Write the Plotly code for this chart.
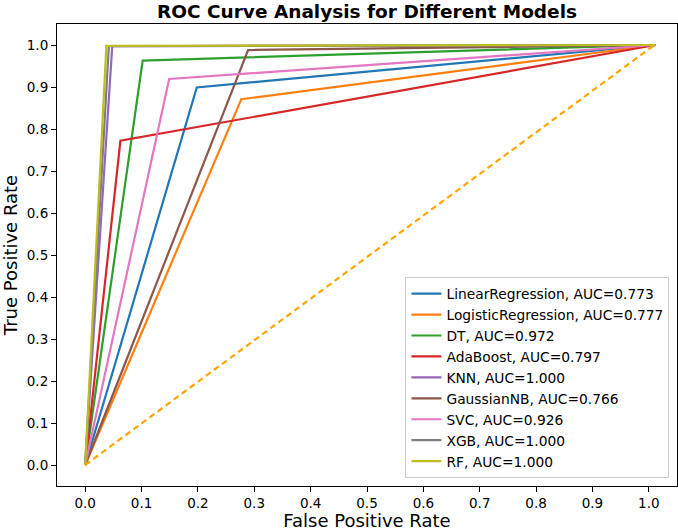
import plotly.graph_objects as go

models = ["LinearRegression", "LogisticRegression", "DT", "AdaBoost", "KNN",
          "GaussianNB", "SVC", "XGB", "RF"]
auc_values = [0.773, 0.777, 0.972, 0.797, 1.000, 0.766, 0.926, 1.000, 1.000]
# (FPR, TPR) corner points; curves go (0,0) -> corner -> end
corner_fpr = [0.198, 0.277, 0.102, 0.0625, 0.048, 0.289, 0.149, 0.042, 0.0376]
corner_tpr = [0.899, 0.871, 0.963, 0.772, 0.997, 0.988, 0.919, 0.997, 0.998]
end_fpr = 1.012
end_tpr = 1.0
colors = ["#1f77b4", "#ff7f0e", "#2ca02c", "#d62728", "#9467bd",
          "#8c564b", "#e377c2", "#7f7f7f", "#bcbd22"]
diag_x = [0.0, 1.01]
diag_y = [0.0, 1.0]
tick_vals = [i / 10 for i in range(11)]
tick_text = [f"{v:.1f}" for v in tick_vals]

FONT = "DejaVu Sans"

fig = go.Figure()
for i, (m, a) in enumerate(zip(models, auc_values)):
    fig.add_trace(go.Scatter(
        x=[0.0, corner_fpr[i], end_fpr],
        y=[0.0, corner_tpr[i], end_tpr],
        mode="lines",
        line=dict(color=colors[i], width=2.2),
        name=f"{m}, AUC={a:.3f}",
        legendgroup=m,
    ))

fig.add_trace(go.Scatter(
    x=diag_x, y=diag_y, mode="lines",
    line=dict(color="#FFA500", width=2.2, dash="6px,4px"),
    showlegend=False, hoverinfo="skip",
))

axis_common = dict(
    showgrid=False, zeroline=False, showline=True, linecolor="black",
    linewidth=1.1, mirror=True, ticks="outside", ticklen=5, tickwidth=1.1,
    tickcolor="black", tickfont=dict(family=FONT, size=13.5, color="black"),
    tickvals=tick_vals, ticktext=tick_text,
)

fig.update_layout(
    width=678, height=531,
    margin=dict(l=57, r=1, t=24, b=45),
    paper_bgcolor="white", plot_bgcolor="white",
    title=dict(text="<b>ROC Curve Analysis for Different Models</b>",
               font=dict(family=FONT, size=18.5, color="black"),
               x=(57 + 677) / 2 / 678, xanchor="center", y=0.99, yanchor="top"),
    xaxis=dict(range=[-0.05, 1.05], title=dict(text="False Positive Rate",
               font=dict(family=FONT, size=18, color="black"), standoff=4),
               **axis_common),
    yaxis=dict(range=[-0.05, 1.05], title=dict(text="True Positive Rate",
               font=dict(family=FONT, size=18, color="black"), standoff=9),
               **axis_common),
    legend=dict(x=0.562, y=0.017, xanchor="left", yanchor="bottom",
                bordercolor="#cccccc", borderwidth=1, bgcolor="rgba(255,255,255,0.8)",
                font=dict(family=FONT, size=13.8, color="black"),
                tracegroupgap=0),
    showlegend=True,
)

fig.write_html("out.html", config={"displayModeBar": False},
               post_script="document.body.style.margin='0';document.body.style.padding='0';")
